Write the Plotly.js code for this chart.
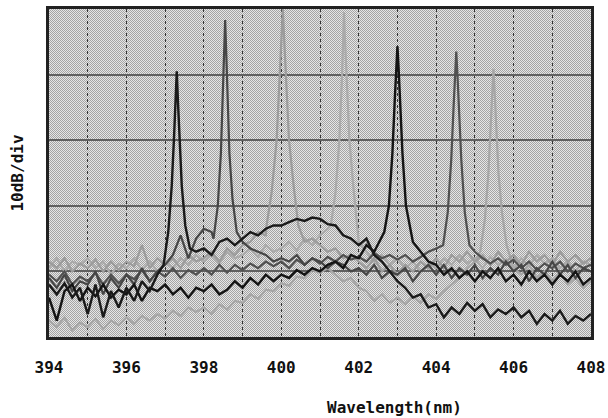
<!DOCTYPE html>
<html>
<head>
<meta charset="utf-8">
<script src="https://cdn.plot.ly/plotly-3.0.1.min.js"></script>
<style>html,body{margin:0;padding:0;background:#fff;}#chart{width:608px;height:418px;}</style>
</head>
<body>
<div id="chart"></div>
<script>
// Wavelength grid (nm) for the noisy baselines
const wl = [394.0,394.2,394.4,394.6,394.8,395.0,395.2,395.4,395.6,395.8,396.0,396.2,396.4,396.6,396.8,397.0,397.2,397.4,397.6,397.8,398.0,398.2,398.4,398.6,398.8,399.0,399.2,399.4,399.6,399.8,400.0,400.2,400.4,400.6,400.8,401.0,401.2,401.4,401.6,401.8,402.0,402.2,402.4,402.6,402.8,403.0,403.2,403.4,403.6,403.8,404.0,404.2,404.4,404.6,404.8,405.0,405.2,405.4,405.6,405.8,406.0,406.2,406.4,406.6,406.8,407.0,407.2,407.4,407.6,407.8,408.0];

// Baselines (dB, relative)
const base1 = [-42.0,-43.5,-41.8,-44.0,-42.5,-46.5,-42.0,-47.0,-43.0,-45.5,-42.5,-44.5,-41.5,-43.0,-40.5,-38.5,-30,-30,-30,-37.0,-36.5,-37.5,-35.5,-35.0,-36.0,-35.0,-34.0,-34.5,-33.5,-33.0,-33.0,-32.5,-32.0,-32.3,-31.8,-32.0,-32.8,-33.0,-34.5,-35.0,-36.0,-35.0,-37.5,-38.5,-40.0,-41.5,-42.5,-44.0,-43.5,-45.5,-45.0,-47.0,-45.5,-46.5,-44.8,-46.0,-45.0,-47.0,-45.8,-46.5,-45.5,-47.0,-46.0,-48.0,-46.5,-47.5,-46.0,-48.0,-46.8,-47.5,-46.5];
const base2 = [-41.0,-42.5,-40.5,-43.0,-41.5,-42.0,-40.0,-43.5,-41.0,-42.5,-40.5,-42.0,-39.5,-41.5,-40.0,-39.0,-37.5,-34.5,-38.0,-35.0,-33.5,-34.0,-30,-30,-30,-35.5,-36.5,-37.0,-37.5,-38.5,-38.0,-38.5,-37.5,-39.0,-38.0,-38.5,-39.5,-38.5,-39.0,-40.0,-39.5,-40.5,-39.0,-41.0,-40.0,-40.5,-39.5,-41.5,-40.0,-39.0,-40.5,-39.0,-41.0,-39.5,-40.5,-39.0,-41.0,-39.5,-40.5,-38.5,-40.0,-39.0,-41.5,-39.5,-40.5,-38.5,-40.5,-39.0,-41.0,-39.5,-40.0];
const base3 = [-38.5,-39.5,-38.0,-40.0,-38.8,-39.5,-38.2,-40.0,-38.5,-39.8,-38.5,-39.2,-36.0,-39.5,-38.0,-39.0,-38.0,-39.5,-37.5,-38.5,-38.0,-37.0,-38.5,-36.5,-37.5,-36.0,-35.5,-34.0,-34.5,-30,-30,-30,-30,-35.5,-35.0,-36.0,-37.0,-36.5,-38.0,-37.5,-38.5,-39.5,-38.0,-40.0,-39.0,-40.5,-39.0,-40.0,-38.5,-39.5,-38.0,-39.5,-37.5,-38.5,-37.0,-38.5,-37.5,-39.0,-37.0,-38.5,-37.5,-39.0,-37.0,-38.5,-37.5,-39.0,-37.0,-38.5,-37.5,-38.8,-38.0];
const base4 = [-39.5,-38.0,-40.0,-38.5,-39.0,-38.0,-39.5,-38.5,-40.5,-38.8,-39.5,-38.0,-39.8,-38.5,-40.0,-38.5,-39.5,-38.0,-39.0,-37.5,-38.5,-37.5,-38.8,-37.0,-38.0,-37.5,-36.5,-37.8,-36.0,-37.0,-36.5,-35.5,-36.8,-35.0,-36.0,-34.5,-33.5,-30,-30,-30,-35.5,-37.0,-38.5,-37.5,-39.0,-38.0,-39.5,-38.5,-40.0,-38.8,-39.5,-38.0,-39.0,-37.5,-38.8,-38.0,-39.5,-37.8,-39.0,-38.2,-39.5,-38.0,-39.2,-37.5,-38.8,-38.0,-39.5,-38.5,-40.0,-38.5,-39.0];
const base5 = [-44.0,-47.5,-43.0,-42.0,-44.5,-42.5,-43.8,-42.0,-44.0,-42.8,-43.5,-42.0,-44.5,-42.5,-43.0,-42.0,-43.5,-42.5,-44.0,-42.5,-43.0,-42.0,-43.5,-42.8,-41.5,-42.5,-41.0,-42.0,-40.5,-41.5,-40.5,-41.0,-39.8,-40.5,-39.5,-40.0,-39.0,-38.5,-39.5,-37.5,-38.0,-36.0,-37.0,-34.5,-30,-30,-30,-35.5,-37.0,-38.5,-39.0,-40.5,-39.5,-41.0,-40.0,-41.5,-40.0,-41.0,-39.5,-41.5,-40.5,-42.0,-40.0,-41.5,-40.5,-42.0,-40.5,-41.5,-40.0,-42.0,-41.0];
const base6 = [-40.5,-41.5,-40.0,-42.0,-40.8,-41.5,-40.2,-42.0,-40.5,-41.8,-40.5,-41.2,-39.8,-41.5,-40.0,-40.8,-39.5,-41.0,-39.8,-40.5,-39.5,-40.5,-39.0,-40.2,-39.0,-39.8,-38.8,-39.5,-38.5,-39.2,-38.5,-39.5,-38.2,-39.0,-38.0,-38.8,-37.8,-38.5,-37.5,-38.2,-37.8,-38.5,-37.2,-38.0,-37.5,-38.2,-37.5,-38.5,-37.8,-37.0,-36.5,-30,-30,-30,-30,-37.0,-38.0,-38.8,-38.0,-39.0,-38.2,-39.5,-38.5,-39.8,-38.8,-39.5,-38.5,-40.0,-38.8,-39.5,-39.0];
const base7 = [-47.5,-48.5,-47.0,-49.0,-47.8,-48.5,-47.2,-48.8,-47.5,-48.2,-47.0,-48.0,-46.8,-47.5,-46.5,-47.2,-46.0,-46.8,-45.5,-46.2,-45.5,-46.5,-45.0,-45.8,-44.5,-44.8,-43.5,-44.2,-42.8,-43.0,-41.8,-42.2,-40.8,-41.0,-39.8,-40.2,-39.5,-40.5,-41.5,-41.0,-42.5,-43.0,-44.5,-43.5,-44.8,-44.0,-45.0,-43.8,-44.8,-43.5,-44.2,-43.0,-42.0,-41.0,-39.5,-38.5,-30,-30,-30,-30,-39.5,-40.5,-39.0,-41.0,-40.0,-41.5,-40.2,-42.0,-41.0,-42.5,-41.5];

// Laser peaks: wavelengths and levels
const peak1X = [396.96,397.08,397.17,397.23,397.27,397.30,397.33,397.37,397.43,397.52,397.64];
const peak1Y = [-39,-34,-27,-19.5,-14,-9.5,-14,-19.5,-27,-33,-36.5];
const peak2X = [398.25,398.36,398.44,398.49,398.52,398.55,398.58,398.61,398.66,398.74,398.85];
const peak2Y = [-35,-30,-22,-14,-7,-1.7,-7,-14,-22,-29,-34];
const peak3X = [399.62,399.75,399.88,399.96,400.01,400.04,400.07,400.12,400.20,400.32,400.44];
const peak3Y = [-33,-28,-20,-10,-4,0,-4,-10,-20,-27,-33];
const peak4X = [401.28,401.40,401.50,401.57,401.60,401.62,401.64,401.68,401.76,401.86,401.96];
const peak4Y = [-33,-28,-20,-10,-4,-0.5,-4,-10,-20,-27,-34];
const peak5X = [402.66,402.78,402.87,402.93,402.97,403.00,403.03,403.07,403.13,403.22,403.34];
const peak5Y = [-34,-30,-22,-14,-9,-5.7,-9,-14,-22,-30,-34];
const peak6X = [404.18,404.30,404.39,404.45,404.49,404.52,404.55,404.59,404.65,404.74,404.86];
const peak6Y = [-36,-31,-23,-15,-10,-6.5,-10,-15,-23,-31,-36];
const peak7X = [405.14,405.26,405.35,405.41,405.45,405.48,405.51,405.55,405.61,405.70,405.82];
const peak7Y = [-37,-32,-25,-17,-12.5,-9.1,-12.5,-17,-25,-31,-36];

const xTicks = [394,396,398,400,402,404,406,408];

function build(base, px, py) {
  const pts = [];
  wl.forEach((x, i) => { if (x <= px[0] || x >= px[px.length - 1]) pts.push([x, base[i]]); });
  px.forEach((x, i) => pts.push([x, py[i]]));
  pts.sort((a, b) => a[0] - b[0]);
  return { x: pts.map(p => p[0]), y: pts.map(p => p[1]) };
}

const specs = [
  [base7, peak7X, peak7Y, '#a6a6a6', 2.2],
  [base4, peak4X, peak4Y, '#aaaaaa', 2.2],
  [base3, peak3X, peak3Y, '#9c9c9c', 2.2],
  [base6, peak6X, peak6Y, '#505050', 2.2],
  [base2, peak2X, peak2Y, '#464646', 2.2],
  [base5, peak5X, peak5Y, '#141414', 2.4],
  [base1, peak1X, peak1Y, '#1a1a1a', 2.4]
];

const traces = specs.map(s => {
  const d = build(s[0], s[1], s[2]);
  return { type: 'scatter', mode: 'lines', x: d.x, y: d.y,
    line: { color: s[3], width: s[4] }, hoverinfo: 'skip' };
});

// fine checkered texture for the plotting area
const texture = 'data:image/svg+xml;utf8,' + encodeURIComponent(
  '<svg xmlns="http://www.w3.org/2000/svg" width="542" height="328" shape-rendering="crispEdges">' +
  '<defs><pattern id="p" width="2" height="2" patternUnits="userSpaceOnUse">' +
  '<rect width="2" height="2" fill="#e6e6e6"/><rect width="1" height="1" fill="#a4a4a4"/>' +
  '<rect x="1" y="1" width="1" height="1" fill="#a4a4a4"/></pattern></defs>' +
  '<rect width="542" height="328" fill="url(#p)"/></svg>');

const monoFont = 'DejaVu Sans Mono, Liberation Mono, monospace';

const layout = {
  width: 608, height: 418,
  margin: { l: 49, r: 17, t: 9, b: 81 },
  paper_bgcolor: '#ffffff',
  plot_bgcolor: '#c6c6c6',
  showlegend: false,
  images: [{
    source: texture, xref: 'paper', yref: 'paper', x: 0, y: 1,
    sizex: 1, sizey: 1, xanchor: 'left', yanchor: 'top', sizing: 'stretch', layer: 'below'
  }],
  xaxis: {
    range: [394, 408], tickvals: xTicks, ticktext: xTicks.map(String),
    ticks: '', ticklabelstandoff: 14, automargin: false,
    tickfont: { family: monoFont, size: 16, color: '#111', weight: 'bold' },
    showgrid: true, gridcolor: '#333333', gridwidth: 1, griddash: '3px,3px',
    minor: { dtick: 1, tick0: 394, showgrid: true, gridcolor: '#333333', gridwidth: 1, griddash: '3px,3px' },
    showline: true, mirror: true, linecolor: '#222222', linewidth: 3, zeroline: false
  },
  yaxis: {
    range: [-50, 0], dtick: 10, tick0: 0, showticklabels: false, ticks: '', automargin: false,
    showgrid: true, gridcolor: '#606060', gridwidth: 2,
    showline: true, mirror: true, linecolor: '#222222', linewidth: 3, zeroline: false,
    title: { text: '10dB/div', font: { family: monoFont, size: 16, color: '#111', weight: 'bold' }, standoff: 19 }
  },
  annotations: [{
    text: 'Wavelength(nm)', xref: 'paper', yref: 'paper', x: 0.638, y: -0.215,
    xanchor: 'center', yanchor: 'middle', showarrow: false,
    font: { family: monoFont, size: 16, color: '#111', weight: 'bold' }
  }]
};

Plotly.newPlot('chart', traces, layout, { displayModeBar: false, staticPlot: true });
</script>
</body>
</html>
